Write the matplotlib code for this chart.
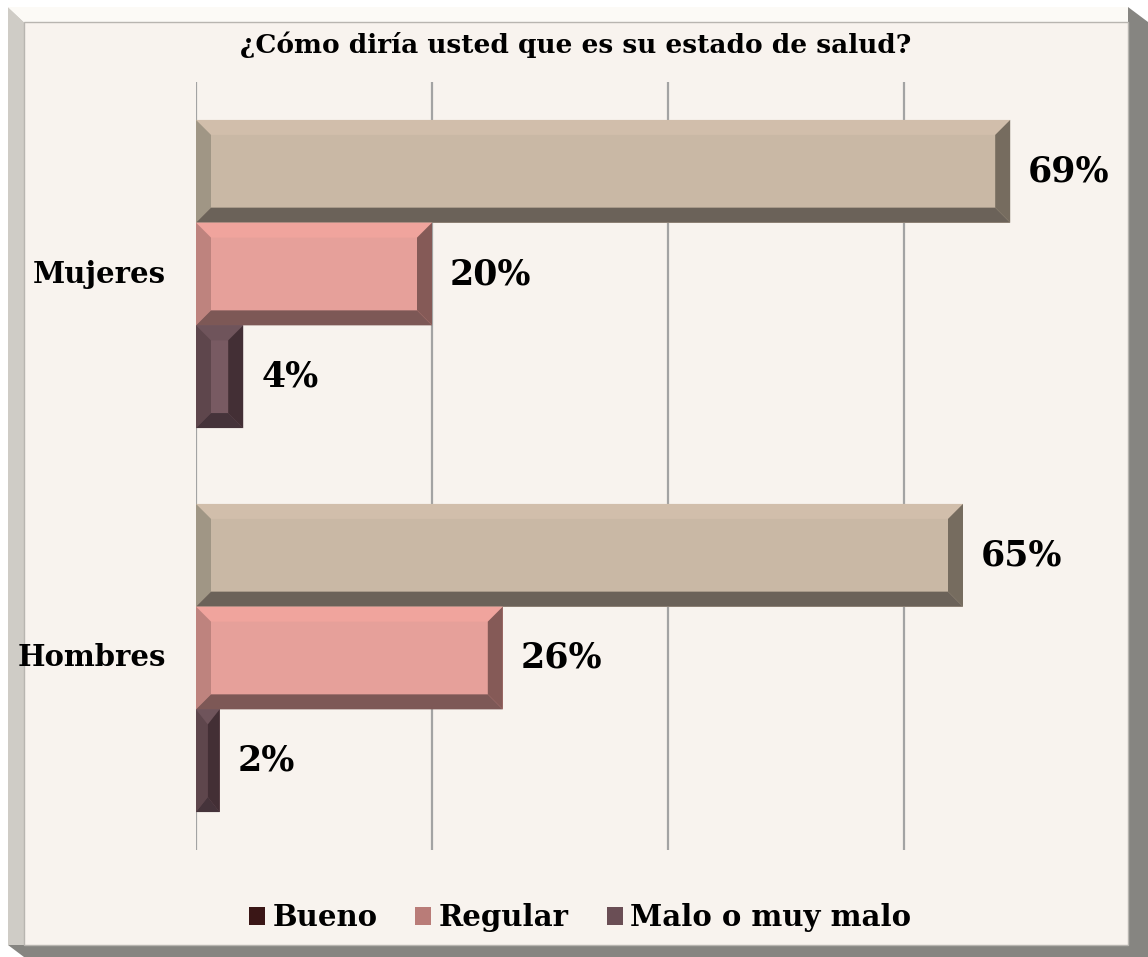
"""bevelled horizontal bar chart: self-reported health by sex"""

import matplotlib.pyplot as plt
from matplotlib.patches import Polygon, Rectangle

# data
categories = ["Hombres", "Mujeres"]
pct_top = [65, 69]
pct_mid = [26, 20]
pct_low = [2, 4]
legend_labels = ["Bueno", "Regular", "Malo o muy malo"]
title = "¿Cómo diría usted que es su estado de salud?"

# style: face, top, left, bottom, right facets
tan = ["#C9B8A5", "#D1BEAB", "#A09685", "#6B6259", "#766C5F"]
pink = ["#E6A09A", "#F0A49D", "#BE837E", "#7D5856", "#855A57"]
plum = ["#785A62", "#6F545B", "#5E464C", "#45333A", "#432F35"]
legend_colors = ["#3A1616", "#B97C78", "#6A4E55"]

W, H = 1148, 957
fig = plt.figure(figsize=(W / 100, H / 100), dpi=100)
fig.patch.set_facecolor("white")


def fx(px):
    return px / W


def fy(py):
    return 1 - py / H


# outer frame with shadow
frame = [
    ([(8, 7), (24, 22), (24, 945), (8, 945)], "#CFCCC6"),
    ([(8, 7), (1128, 7), (1128, 22), (24, 22)], "#FCFAF6"),
    ([(1128, 7), (1148, 22), (1148, 957), (1128, 957)], "#868581"),
    ([(8, 945), (1148, 945), (1148, 957), (24, 957)], "#868581"),
]
for pts, c in frame:
    fig.patches.append(Polygon([(fx(a), fy(b)) for a, b in pts], closed=True,
                               transform=fig.transFigure, facecolor=c, lw=0,
                               zorder=-2))
fig.patches.append(Rectangle((fx(24), fy(945)), fx(1104), 923 / H,
                             transform=fig.transFigure, facecolor="#F8F3EE",
                             edgecolor="#B8B5B0", lw=1, zorder=-1))

ax = fig.add_axes([fx(196), fy(850), fx(932), 768 / H])
ax.set_zorder(2)
ax.set_facecolor("none")
ax.set_xlim(0, 932 / 11.8)
ax.set_ylim(-0.5, 1.5)
for s in ax.spines.values():
    s.set_visible(False)
ax.set_xticks([])
ax.set_yticks([])
for g in [0, 20, 40, 60]:
    ax.axvline(g, color="#A3A3A3", lw=1.6, zorder=0)

h = 0.2675
ypos = list(range(len(categories)))
bx_px, by_px = 15, 15
ppx = 11.8          # pixels per x unit
ppy = 768 / 2.0     # pixels per y unit


def bevel_bars(values, offset, cols):
    bars = ax.barh([y + offset for y in ypos], values, height=h,
                   color=cols[0], lw=0, zorder=2)
    for rect, v in zip(bars, values):
        x0, y0 = rect.get_x(), rect.get_y()
        x1, y1 = x0 + rect.get_width(), y0 + rect.get_height()
        bx = min(bx_px / ppx, (x1 - x0) / 2)
        by = min(by_px / ppy, (y1 - y0) / 2)
        # y0 is bottom, y1 is top in data coords
        facets = [
            ([(x0, y1), (x1, y1), (x1 - bx, y1 - by), (x0 + bx, y1 - by)], cols[1]),
            ([(x0, y1), (x0 + bx, y1 - by), (x0 + bx, y0 + by), (x0, y0)], cols[2]),
            ([(x0, y0), (x0 + bx, y0 + by), (x1 - bx, y0 + by), (x1, y0)], cols[3]),
            ([(x1, y1), (x1, y0), (x1 - bx, y0 + by), (x1 - bx, y1 - by)], cols[4]),
        ]
        for pts, c in facets:
            ax.add_patch(Polygon(pts, closed=True, facecolor=c, lw=0, zorder=3))
        ax.text(x1 + 18 / ppx, (y0 + y1) / 2, f"{v}%", va="center", ha="left",
                fontsize=25, fontweight="bold", family="DejaVu Serif", zorder=4)


bevel_bars(pct_top, h, tan)
bevel_bars(pct_mid, 0, pink)
bevel_bars(pct_low, -h, plum)

for y, lab in zip(ypos, categories):
    ax.text(-30 / ppx, y, lab, ha="right", va="center", fontsize=21,
            fontweight="bold", family="DejaVu Serif")

fig.text(fx(576), fy(45), title, ha="center", va="center", fontsize=19,
         fontweight="bold", family="DejaVu Serif")

handles = [Rectangle((0, 0), 1, 1, facecolor=c, lw=0) for c in legend_colors]
leg = fig.legend(handles, legend_labels, loc="center", bbox_to_anchor=(fx(580), fy(918)),
                 ncol=3, frameon=False, handlelength=0.55, handleheight=0.55,
                 handletextpad=0.25, columnspacing=1.3,
                 prop={"family": "DejaVu Serif", "weight": "bold", "size": 21})

fig.savefig("out.png", dpi=100, facecolor=fig.get_facecolor())
